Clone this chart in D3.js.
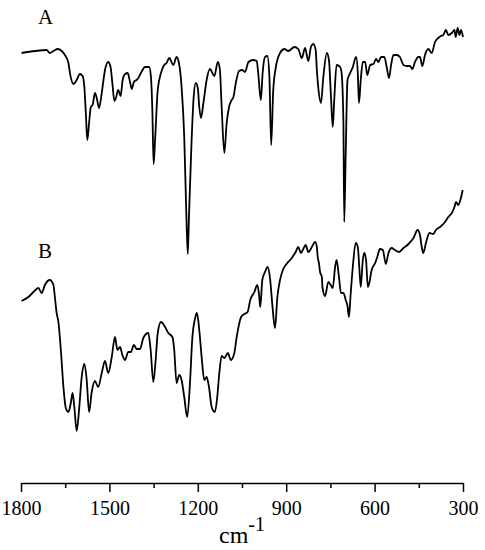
<!DOCTYPE html>
<html>
<head>
<meta charset="utf-8">
<script src="https://cdn.jsdelivr.net/npm/d3@7"></script>
<style>
  html, body { margin: 0; padding: 0; background: #fff; }
  svg { display: block; }
</style>
</head>
<body>
<svg id="chart" width="485" height="550"></svg>
<script>
// Wavenumbers (cm-1) and relative transmittance (arbitrary units) for spectrum A
const waveA = [1798,1752,1713,1702,1690,1675,1662,1651,1639,1634,1622,1611,1600,1591,1585,1580,1575,1569,1563,1557,1549,1543,1535,1526,1515,1504,1496,1490,1483,1478,1470,1462,1455,1447,1438,1430,1424,1417,1404,1393,1379,1365,1359,1354,1350,1345,1336,1325,1314,1306,1297,1283,1272,1264,1255,1246,1239,1234,1230,1221,1214,1207,1200,1195,1189,1181,1170,1159,1144,1132,1125,1119,1110,1102,1094,1085,1079,1071,1060,1049,1040,1028,1012,1000,995,986,980,972,964,957,951,944,935,921,906,893,872,859,847,836,825,816,808,800,796,791,782,774,762,755,748,742,737,729,717,712,706,703,698,692,686,674,663,657,653,647,640,632,625,615,604,595,587,578,567,559,551,544,536,525,514,502,491,480,472,463,452,446,438,429,418,406,395,384,375,367,358,350,338,329,325,318,312,307,300];
const valuesA = [430,432,433,430,432,434,432,428,420,410,399,403,409,407,396,370,343,360,376,378,390,385,375,390,413,421,416,400,382,385,393,387,403,409,410,401,394,401,404,410,416,416,406,370,319,343,393,410,418,420,425,418,426,420,396,346,270,229,266,343,386,400,395,376,365,380,403,414,407,421,413,376,330,360,376,383,386,400,412,413,411,421,423,422,410,383,410,426,427,406,338,393,416,430,434,432,436,434,425,435,422,436,439,433,413,395,380,406,430,423,386,356,383,418,416,410,363,261,330,403,408,416,426,410,380,403,421,421,408,418,419,424,421,426,426,416,405,418,428,428,426,418,417,417,414,421,426,426,417,428,434,430,441,445,447,448,453,448,450,453,446,455,448,453,446];

// Spectrum B
const waveB = [1798,1775,1758,1741,1730,1719,1702,1690,1685,1679,1673,1664,1656,1648,1639,1631,1625,1619,1611,1603,1594,1585,1577,1569,1560,1549,1538,1526,1515,1504,1492,1481,1473,1464,1456,1447,1436,1427,1417,1407,1396,1385,1368,1360,1351,1343,1336,1325,1311,1300,1286,1280,1272,1263,1255,1246,1236,1226,1219,1209,1203,1195,1187,1178,1170,1162,1153,1142,1134,1127,1119,1110,1098,1088,1076,1068,1053,1042,1031,1022,1008,998,992,988,981,972,963,955,947,938,930,921,910,896,881,868,859,850,842,834,825,813,802,796,793,789,785,779,777,768,757,749,742,734,729,721,714,706,698,692,687,681,674,664,657,652,647,640,635,629,623,618,610,598,591,582,572,562,553,542,531,517,502,485,468,454,446,440,435,425,414,401,392,378,361,350,338,329,324,316,308,301];
const valuesB = [182,186,191,195,190,198,203,198,186,170,161,130,96,75,71,80,90,76,52,73,106,119,103,71,91,102,96,110,122,110,126,146,133,136,128,123,131,131,138,134,134,145,150,133,101,123,150,161,156,150,146,133,100,108,103,86,66,103,143,165,170,153,126,103,106,96,76,71,86,110,127,125,130,123,130,146,166,169,171,183,191,198,188,176,203,211,216,205,178,155,186,203,214,220,225,231,236,230,234,238,231,236,241,236,226,220,211,206,196,187,201,198,195,216,223,206,190,190,183,177,166,190,216,240,236,216,196,223,230,223,196,200,213,220,226,234,233,219,230,235,233,231,235,239,245,253,248,236,230,241,250,249,253,256,261,266,270,276,281,278,284,293];

// Axis ticks
const majorTicks = [1800, 1500, 1200, 900, 600, 300];
const minorTicks = [1650, 1350, 1050, 750, 450];
const seriesLabels = ["A", "B"];

const svg = d3.select("#chart");
const font = "'Liberation Serif', 'Times New Roman', serif";

const x = d3.scaleLinear().domain([1800, 300]).range([21, 463]);
const y = d3.scaleLinear().domain([0, 460]).range([483, 23]);

const line = d3.line()
  .x(d => x(d[0]))
  .y(d => y(d[1]))
  .curve(d3.curveMonotoneX);

const dataA = waveA.map((w, i) => [w, valuesA[i]]);
const dataB = waveB.map((w, i) => [w, valuesB[i]]);

[dataA, dataB].forEach(d => {
  svg.append("path")
    .datum(d)
    .attr("d", line)
    .attr("fill", "none")
    .attr("stroke", "#000")
    .attr("stroke-width", 1.8)
    .attr("stroke-linejoin", "round");
});

// Series labels
svg.append("text").attr("x", 38).attr("y", 24)
  .attr("font-family", font).attr("font-size", 21).text(seriesLabels[0]);
svg.append("text").attr("x", 38).attr("y", 258)
  .attr("font-family", font).attr("font-size", 21).text(seriesLabels[1]);

// Axis
const axis = d3.axisBottom(x)
  .tickValues(majorTicks)
  .tickSize(9)
  .tickSizeOuter(0)
  .tickFormat(d3.format("d"));

const gAxis = svg.append("g").attr("transform", "translate(0,483)").call(axis);
gAxis.attr("font-family", font);
gAxis.select(".domain").attr("stroke", "#000").attr("stroke-width", 1.5);
gAxis.selectAll(".tick line").attr("stroke", "#000").attr("stroke-width", 1.5);
gAxis.selectAll(".tick text")
  .attr("font-family", font)
  .attr("font-size", 20)
  .attr("fill", "#000")
  .attr("y", 32)
  .attr("dy", 0);

const minorAxis = d3.axisBottom(x)
  .tickValues(minorTicks)
  .tickSize(5)
  .tickSizeOuter(0)
  .tickFormat("");
const gMinor = svg.append("g").attr("transform", "translate(0,483)").call(minorAxis);
gMinor.select(".domain").remove();
gMinor.selectAll(".tick line").attr("stroke", "#000").attr("stroke-width", 1.5);

// Axis title
const title = svg.append("text")
  .attr("x", 242).attr("y", 543)
  .attr("text-anchor", "middle")
  .attr("font-family", font)
  .attr("font-size", 24);
title.append("tspan").text("cm");
title.append("tspan").attr("font-size", 20).attr("dy", -12).text("-1");
</script>
</body>
</html>
